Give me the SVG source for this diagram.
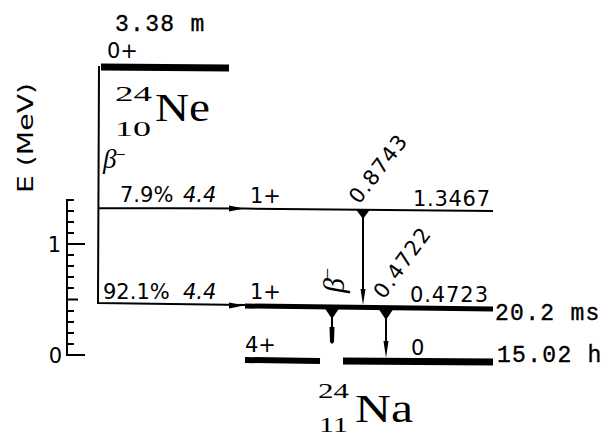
<svg xmlns="http://www.w3.org/2000/svg" width="616" height="439" viewBox="0 0 616 439">
<style>
.ln{stroke:#000;fill:none;stroke-width:2}
.thick{stroke:#000;fill:none}
.lab{font-family:"DejaVu Sans","Liberation Sans",sans-serif;font-size:21px;fill:#000}
.it{font-style:italic}
.mono{font-family:"Liberation Mono","DejaVu Sans Mono",monospace;font-size:23px;letter-spacing:1.3px;fill:#000;stroke:#000;stroke-width:0.35}
.ser{font-family:"Liberation Serif","DejaVu Serif",serif;fill:#000}
.hd{fill:#000;stroke:none}
</style>
<rect width="616" height="439" fill="#fff"/>

<g id="axis">
  <path class="ln" d="M67,199 V356 M67,355 H85 M67,244 H85 M67,299.5 H78 M67,344 H74 M67,333 H74 M67,322 H74 M67,311 H74 M67,288 H74 M67,277 H74 M67,266 H74 M67,255 H74 M67,233 H74 M67,222 H74 M67,211 H74 M67,200 H74"/>
  <text class="lab" x="61" y="252" text-anchor="end">1</text>
  <text class="lab" x="62" y="363" text-anchor="end">0</text>
  <text class="lab" transform="translate(33,193) rotate(-90)" textLength="110" lengthAdjust="spacingAndGlyphs">E (MeV)</text>
</g>

<g id="ne24">
  <path class="thick" stroke-width="7" d="M101,67 L229,68"/>
  <text class="mono" x="115" y="31">3.38 m</text>
  <text class="lab" x="107" y="58">0+</text>
  <text class="ser" x="115" y="101" font-size="21" textLength="37" lengthAdjust="spacingAndGlyphs">24</text>
  <text class="ser" x="115" y="136" font-size="21" textLength="36" lengthAdjust="spacingAndGlyphs">10</text>
  <text class="ser" x="155" y="121" font-size="41" textLength="55" lengthAdjust="spacingAndGlyphs">Ne</text>
  <text class="ser it" x="103" y="168" font-size="27">β<tspan dy="-10" font-size="16">–</tspan></text>
</g>

<g id="na-1346">
  <path class="ln" d="M245,208.6 L493,211"/>
  <text class="lab" x="250" y="203">1+</text>
  <text class="lab" x="413" y="206" textLength="77" lengthAdjust="spacing">1.3467</text>
</g>

<g id="na-472">
  <path class="thick" stroke-width="5" d="M245,306 L493,309"/>
  <text class="lab" x="250" y="299">1+</text>
  <text class="lab" x="410" y="302" textLength="78" lengthAdjust="spacing">0.4723</text>
  <text class="mono" x="495" y="320">20.2 ms</text>
</g>

<g id="na-ground-4">
  <path class="thick" stroke-width="6" d="M245,360 L320,361"/>
  <text class="lab" x="245" y="352">4+</text>
</g>

<g id="na-ground-0">
  <path class="thick" stroke-width="7" d="M343,361 L493,362"/>
  <text class="lab" x="411" y="355">0</text>
  <text class="mono" x="497" y="362">15.02 h</text>
</g>

<g id="na24">
  <text class="ser" x="318" y="398" font-size="21" textLength="31" lengthAdjust="spacingAndGlyphs">24</text>
  <text class="ser" x="319" y="432" font-size="21" textLength="29" lengthAdjust="spacingAndGlyphs">11</text>
  <text class="ser" x="355" y="422" font-size="40" textLength="58" lengthAdjust="spacingAndGlyphs">Na</text>
</g>

<g id="connectors">
  <path class="ln" d="M99,66 L98,304 M98,303 L245,305 M99,208 L245,208.6"/>
  <polygon class="hd" points="229,205.5 244,208.5 229,211.5"/>
  <polygon class="hd" points="229,302.5 244,305.5 229,308.5"/>
  <text class="lab" x="120" y="202">7.9%</text>
  <text class="lab it" x="183" y="202">4.4</text>
  <text class="lab" x="103" y="299">92.1%</text>
  <text class="lab it" x="183" y="299">4.4</text>
  <text class="ser it" transform="translate(344,293) rotate(-90)" font-size="30">β<tspan dy="-12" font-size="18">–</tspan></text>
  <path class="ln" d="M363,212 V292"/>
  <polygon class="hd" points="356,209.5 370,209.5 363,219"/>
  <path class="hd" d="M360.5,289 L365.5,289 L363,305 Z"/>
  <text class="lab" transform="translate(359,205) rotate(-52)" textLength="80" lengthAdjust="spacing">0.8743</text>
  <path class="ln" d="M332,310 V330"/>
  <polygon class="hd" points="325,308.5 339,308.5 332,319"/>
  <path class="hd" d="M329.5,327 L334.5,327 L334,342 L332,344 L330,342 Z"/>
  <path class="ln" d="M386,311 V345"/>
  <polygon class="hd" points="379,309.5 393,309.5 386,320"/>
  <path class="hd" d="M383.5,341 L388.5,341 L386,358 Z"/>
  <text class="lab" transform="translate(384,300) rotate(-54)" textLength="81" lengthAdjust="spacing">0.4722</text>
</g>
</svg>
